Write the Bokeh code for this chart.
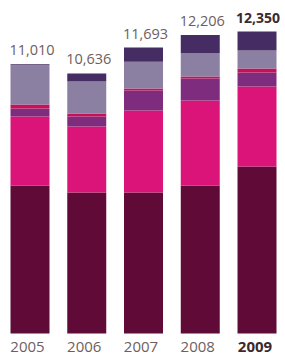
from bokeh.plotting import figure
from bokeh.models import ColumnDataSource, Range1d
from bokeh.core.properties import value
from bokeh.embed import file_html
from bokeh.resources import INLINE

years = ["2005", "2006", "2007", "2008", "2009"]
totals = [11010, 10636, 11693, 12206, 12350]
total_labels = ["11,010", "10,636", "11,693", "12,206", "12,350"]
seg_a = [6053, 5767, 5767, 6053, 6830]
seg_b = [2822, 2700, 3354, 3477, 3272]
seg_c = [327, 409, 818, 900, 573]
seg_d = [164, 123, 82, 82, 164]
seg_e = [1603, 1309, 1099, 958, 734]
seg_f = [41, 327, 573, 736, 777]

segments = ["a", "b", "c", "d", "e", "f"]
colors = ["#5F0A37", "#DA1479", "#7E2D7E", "#C5105A", "#8B7FA2", "#452C63"]

xs = list(range(len(years)))
src = ColumnDataSource(dict(x=xs, a=seg_a, b=seg_b, c=seg_c, d=seg_d, e=seg_e, f=seg_f))

p = figure(width=285, height=358, output_backend="svg", toolbar_location=None,
           x_range=Range1d(-0.5198, 4.502), y_range=Range1d(-1022, 13620),
           min_border=0, min_border_left=0, min_border_right=0,
           min_border_top=0, min_border_bottom=0)
p.axis.visible = False
p.grid.visible = False
p.outline_line_color = None
p.background_fill_color = "white"
p.border_fill_color = "white"

p.vbar_stack(segments, x="x", width=0.687, color=colors, line_color=None, source=src)

reg_idx = xs[:-1]
p.text(x=reg_idx, y=totals[:-1], text=total_labels[:-1], x_offset=2, y_offset=-14,
       text_align="center", text_baseline="alphabetic",
       text_font=value("Open Sans"), text_font_size="14.5px", text_color="#6E5E60")
p.text(x=[xs[-1]], y=[totals[-1]], text=[total_labels[-1]], x_offset=1, y_offset=-14,
       text_align="center", text_baseline="alphabetic",
       text_font=value("Open Sans"), text_font_size="14px", text_font_style="bold",
       text_color="#3B2A2E")
p.text(x=reg_idx, y=[0] * len(reg_idx), text=years[:-1], x_offset=-2.5, y_offset=13.5,
       text_align="center", text_baseline="alphabetic",
       text_font=value("Open Sans"), text_font_size="15px", text_color="#6E5E60")
p.text(x=[xs[-1]], y=[0], text=[years[-1]], x_offset=-2, y_offset=13.5,
       text_align="center", text_baseline="alphabetic",
       text_font=value("Open Sans"), text_font_size="15px", text_font_style="bold",
       text_color="#3B2A2E")

open("out.html", "w").write(file_html(p, INLINE))
